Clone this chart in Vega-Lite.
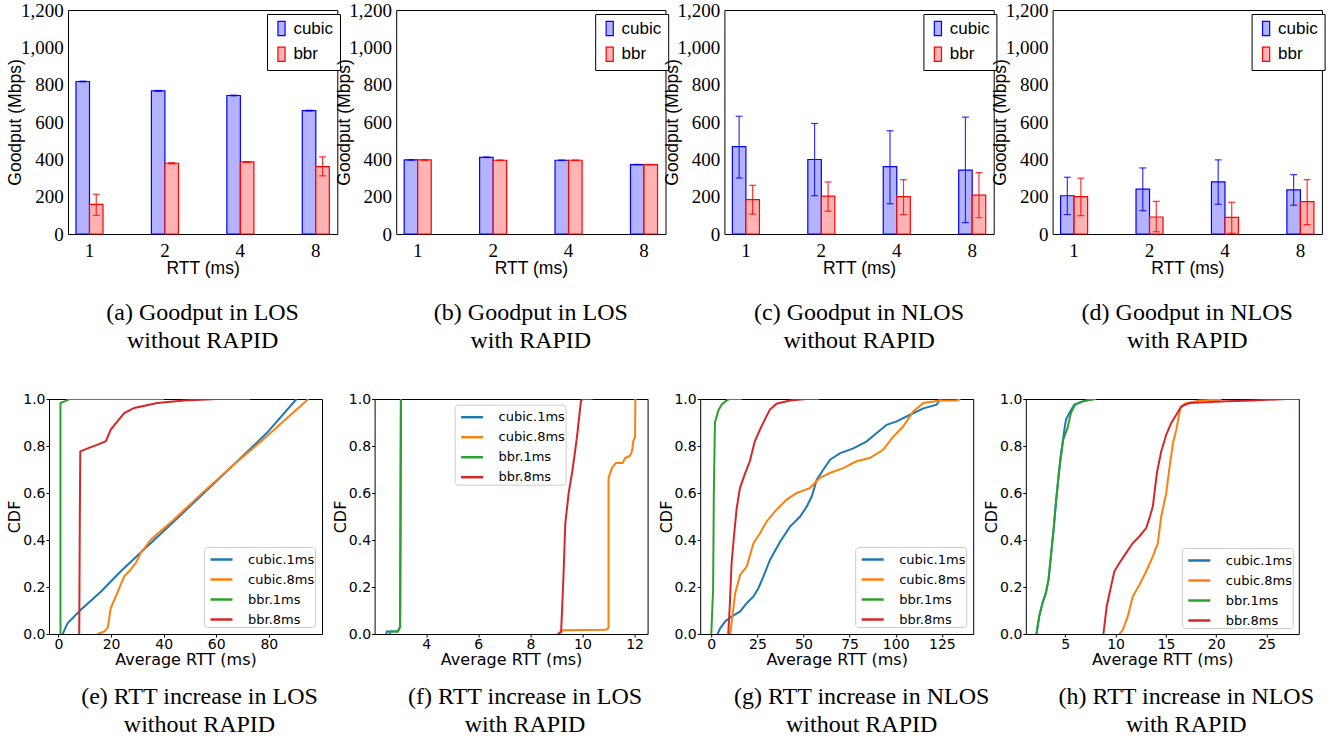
{
"$schema": "https://vega.github.io/schema/vega-lite/v6.json",
"background": "white",
"padding": {"left": 6, "top": 0, "right": 5, "bottom": 5},
"config": {
  "view": {"stroke": "#000000", "strokeWidth": 1},
  "axis": {"grid": false, "domain": false, "labelColor": "#000000", "titleColor": "#000000", "titleFontWeight": "normal", "labelFlush": false, "labelOverlap": false},
  "title": {"font": "Liberation Serif", "fontSize": 24, "fontWeight": "normal", "color": "#000000", "lineHeight": 28, "orient": "bottom", "anchor": "middle", "frame": "group"}
},
"datasets": {
"bars": [
{"p":"a","rtt":1,"algo":"cubic","v":817,"lo":815,"hi":819},
{"p":"a","rtt":2,"algo":"cubic","v":767,"lo":765,"hi":769},
{"p":"a","rtt":4,"algo":"cubic","v":742,"lo":740,"hi":744},
{"p":"a","rtt":8,"algo":"cubic","v":661,"lo":659,"hi":663},
{"p":"a","rtt":1,"algo":"bbr","v":159,"lo":100,"hi":213},
{"p":"a","rtt":2,"algo":"bbr","v":379,"lo":376,"hi":382},
{"p":"a","rtt":4,"algo":"bbr","v":386,"lo":384,"hi":388},
{"p":"a","rtt":8,"algo":"bbr","v":361,"lo":311,"hi":413},
{"p":"b","rtt":1,"algo":"cubic","v":397,"lo":396,"hi":398},
{"p":"b","rtt":2,"algo":"cubic","v":411,"lo":410,"hi":412},
{"p":"b","rtt":4,"algo":"cubic","v":395,"lo":394,"hi":396},
{"p":"b","rtt":8,"algo":"cubic","v":372,"lo":371,"hi":373},
{"p":"b","rtt":1,"algo":"bbr","v":397,"lo":396,"hi":398},
{"p":"b","rtt":2,"algo":"bbr","v":395,"lo":394,"hi":396},
{"p":"b","rtt":4,"algo":"bbr","v":395,"lo":394,"hi":396},
{"p":"b","rtt":8,"algo":"bbr","v":372,"lo":371,"hi":373},
{"p":"c","rtt":1,"algo":"cubic","v":468,"lo":300,"hi":631},
{"p":"c","rtt":2,"algo":"cubic","v":399,"lo":205,"hi":592},
{"p":"c","rtt":4,"algo":"cubic","v":361,"lo":162,"hi":553},
{"p":"c","rtt":8,"algo":"cubic","v":342,"lo":61,"hi":626},
{"p":"c","rtt":1,"algo":"bbr","v":184,"lo":106,"hi":261},
{"p":"c","rtt":2,"algo":"bbr","v":203,"lo":122,"hi":279},
{"p":"c","rtt":4,"algo":"bbr","v":200,"lo":104,"hi":291},
{"p":"c","rtt":8,"algo":"bbr","v":208,"lo":87,"hi":329},
{"p":"d","rtt":1,"algo":"cubic","v":205,"lo":104,"hi":304},
{"p":"d","rtt":2,"algo":"cubic","v":240,"lo":125,"hi":354},
{"p":"d","rtt":4,"algo":"cubic","v":279,"lo":159,"hi":397},
{"p":"d","rtt":8,"algo":"cubic","v":236,"lo":154,"hi":318},
{"p":"d","rtt":1,"algo":"bbr","v":200,"lo":98,"hi":299},
{"p":"d","rtt":2,"algo":"bbr","v":91,"lo":12,"hi":175},
{"p":"d","rtt":4,"algo":"bbr","v":89,"lo":4,"hi":170},
{"p":"d","rtt":8,"algo":"bbr","v":173,"lo":50,"hi":291}
],
"cdf": [
{"p":"e","s":"cubic.1ms","i":0,"x":1.6,"y":0},{"p":"e","s":"cubic.1ms","i":1,"x":3.5,"y":0.047},{"p":"e","s":"cubic.1ms","i":2,"x":8.6,"y":0.104},{"p":"e","s":"cubic.1ms","i":3,"x":16.1,"y":0.18},{"p":"e","s":"cubic.1ms","i":4,"x":23.7,"y":0.267},{"p":"e","s":"cubic.1ms","i":5,"x":33.8,"y":0.373},{"p":"e","s":"cubic.1ms","i":6,"x":43.9,"y":0.479},{"p":"e","s":"cubic.1ms","i":7,"x":54,"y":0.586},{"p":"e","s":"cubic.1ms","i":8,"x":66.6,"y":0.72},{"p":"e","s":"cubic.1ms","i":9,"x":79.2,"y":0.855},{"p":"e","s":"cubic.1ms","i":10,"x":90.5,"y":1.0},
{"p":"e","s":"cubic.8ms","i":0,"x":14.9,"y":0},{"p":"e","s":"cubic.8ms","i":1,"x":17.4,"y":0.011},{"p":"e","s":"cubic.8ms","i":2,"x":18.7,"y":0.026},{"p":"e","s":"cubic.8ms","i":3,"x":19.9,"y":0.11},{"p":"e","s":"cubic.8ms","i":4,"x":21.8,"y":0.16},{"p":"e","s":"cubic.8ms","i":5,"x":25,"y":0.245},{"p":"e","s":"cubic.8ms","i":6,"x":26.9,"y":0.267},{"p":"e","s":"cubic.8ms","i":7,"x":29.4,"y":0.302},{"p":"e","s":"cubic.8ms","i":8,"x":31.3,"y":0.345},{"p":"e","s":"cubic.8ms","i":9,"x":35.1,"y":0.401},{"p":"e","s":"cubic.8ms","i":10,"x":43.9,"y":0.487},{"p":"e","s":"cubic.8ms","i":11,"x":54,"y":0.593},{"p":"e","s":"cubic.8ms","i":12,"x":66.6,"y":0.72},{"p":"e","s":"cubic.8ms","i":13,"x":79.2,"y":0.841},{"p":"e","s":"cubic.8ms","i":14,"x":95,"y":1.0},
{"p":"e","s":"bbr.1ms","i":0,"x":0.76,"y":0},{"p":"e","s":"bbr.1ms","i":1,"x":0.76,"y":0.983},{"p":"e","s":"bbr.1ms","i":2,"x":2.3,"y":0.99},{"p":"e","s":"bbr.1ms","i":3,"x":4.2,"y":1.0},{"p":"e","s":"bbr.1ms","i":4,"x":40.1,"y":1.0},
{"p":"e","s":"bbr.8ms","i":0,"x":7.9,"y":0},{"p":"e","s":"bbr.8ms","i":1,"x":8.1,"y":0.47},{"p":"e","s":"bbr.8ms","i":2,"x":8.3,"y":0.777},{"p":"e","s":"bbr.8ms","i":3,"x":11.1,"y":0.79},{"p":"e","s":"bbr.8ms","i":4,"x":14.9,"y":0.806},{"p":"e","s":"bbr.8ms","i":5,"x":18,"y":0.82},{"p":"e","s":"bbr.8ms","i":6,"x":19.9,"y":0.87},{"p":"e","s":"bbr.8ms","i":7,"x":22.4,"y":0.905},{"p":"e","s":"bbr.8ms","i":8,"x":25,"y":0.94},{"p":"e","s":"bbr.8ms","i":9,"x":28.8,"y":0.962},{"p":"e","s":"bbr.8ms","i":10,"x":37.6,"y":0.983},{"p":"e","s":"bbr.8ms","i":11,"x":47.7,"y":0.994},{"p":"e","s":"bbr.8ms","i":12,"x":60.3,"y":1.0},{"p":"e","s":"bbr.8ms","i":13,"x":72.9,"y":1.0},
{"p":"f","s":"cubic.1ms","i":0,"x":2.47,"y":0},{"p":"f","s":"cubic.1ms","i":1,"x":2.49,"y":0.011},{"p":"f","s":"cubic.1ms","i":2,"x":2.91,"y":0.011},{"p":"f","s":"cubic.1ms","i":3,"x":3.0,"y":0.03},{"p":"f","s":"cubic.1ms","i":4,"x":3.03,"y":1.0},
{"p":"f","s":"cubic.8ms","i":0,"x":9.11,"y":0},{"p":"f","s":"cubic.8ms","i":1,"x":9.24,"y":0.016},{"p":"f","s":"cubic.8ms","i":2,"x":10.9,"y":0.018},{"p":"f","s":"cubic.8ms","i":3,"x":11.0,"y":0.026},{"p":"f","s":"cubic.8ms","i":4,"x":11.0,"y":0.664},{"p":"f","s":"cubic.8ms","i":5,"x":11.13,"y":0.706},{"p":"f","s":"cubic.8ms","i":6,"x":11.28,"y":0.728},{"p":"f","s":"cubic.8ms","i":7,"x":11.54,"y":0.728},{"p":"f","s":"cubic.8ms","i":8,"x":11.64,"y":0.749},{"p":"f","s":"cubic.8ms","i":9,"x":11.82,"y":0.759},{"p":"f","s":"cubic.8ms","i":10,"x":11.9,"y":0.777},{"p":"f","s":"cubic.8ms","i":11,"x":11.95,"y":0.82},{"p":"f","s":"cubic.8ms","i":12,"x":12.02,"y":0.84},{"p":"f","s":"cubic.8ms","i":13,"x":12.03,"y":1.0},
{"p":"f","s":"bbr.1ms","i":0,"x":2.6,"y":0},{"p":"f","s":"bbr.1ms","i":1,"x":2.62,"y":0.011},{"p":"f","s":"bbr.1ms","i":2,"x":2.91,"y":0.011},{"p":"f","s":"bbr.1ms","i":3,"x":3.0,"y":0.03},{"p":"f","s":"bbr.1ms","i":4,"x":3.03,"y":1.0},
{"p":"f","s":"bbr.8ms","i":0,"x":9.05,"y":0},{"p":"f","s":"bbr.8ms","i":1,"x":9.18,"y":0.01},{"p":"f","s":"bbr.8ms","i":2,"x":9.27,"y":0.245},{"p":"f","s":"bbr.8ms","i":3,"x":9.34,"y":0.47},{"p":"f","s":"bbr.8ms","i":4,"x":9.47,"y":0.6},{"p":"f","s":"bbr.8ms","i":5,"x":9.62,"y":0.7},{"p":"f","s":"bbr.8ms","i":6,"x":9.78,"y":0.83},{"p":"f","s":"bbr.8ms","i":7,"x":9.94,"y":0.99},{"p":"f","s":"bbr.8ms","i":8,"x":10.0,"y":1.0},{"p":"f","s":"bbr.8ms","i":9,"x":10.39,"y":1.0},
{"p":"g","s":"cubic.1ms","i":0,"x":3.4,"y":0},{"p":"g","s":"cubic.1ms","i":1,"x":4.9,"y":0.025},{"p":"g","s":"cubic.1ms","i":2,"x":7.6,"y":0.054},{"p":"g","s":"cubic.1ms","i":3,"x":11.2,"y":0.075},{"p":"g","s":"cubic.1ms","i":4,"x":15.7,"y":0.096},{"p":"g","s":"cubic.1ms","i":5,"x":19.3,"y":0.132},{"p":"g","s":"cubic.1ms","i":6,"x":22.9,"y":0.16},{"p":"g","s":"cubic.1ms","i":7,"x":25.6,"y":0.196},{"p":"g","s":"cubic.1ms","i":8,"x":28.3,"y":0.245},{"p":"g","s":"cubic.1ms","i":9,"x":31.9,"y":0.316},{"p":"g","s":"cubic.1ms","i":10,"x":37.4,"y":0.394},{"p":"g","s":"cubic.1ms","i":11,"x":42.8,"y":0.458},{"p":"g","s":"cubic.1ms","i":12,"x":48.2,"y":0.5},{"p":"g","s":"cubic.1ms","i":13,"x":51.8,"y":0.543},{"p":"g","s":"cubic.1ms","i":14,"x":54.5,"y":0.586},{"p":"g","s":"cubic.1ms","i":15,"x":57.2,"y":0.657},{"p":"g","s":"cubic.1ms","i":16,"x":60.8,"y":0.7},{"p":"g","s":"cubic.1ms","i":17,"x":64.4,"y":0.742},{"p":"g","s":"cubic.1ms","i":18,"x":69.9,"y":0.77},{"p":"g","s":"cubic.1ms","i":19,"x":77,"y":0.79},{"p":"g","s":"cubic.1ms","i":20,"x":84.3,"y":0.82},{"p":"g","s":"cubic.1ms","i":21,"x":89.7,"y":0.855},{"p":"g","s":"cubic.1ms","i":22,"x":95.1,"y":0.89},{"p":"g","s":"cubic.1ms","i":23,"x":100.5,"y":0.905},{"p":"g","s":"cubic.1ms","i":24,"x":107.8,"y":0.933},{"p":"g","s":"cubic.1ms","i":25,"x":115,"y":0.96},{"p":"g","s":"cubic.1ms","i":26,"x":122.2,"y":0.976},{"p":"g","s":"cubic.1ms","i":27,"x":124,"y":1.0},
{"p":"g","s":"cubic.8ms","i":0,"x":10.3,"y":0},{"p":"g","s":"cubic.8ms","i":1,"x":11.2,"y":0.06},{"p":"g","s":"cubic.8ms","i":2,"x":13,"y":0.175},{"p":"g","s":"cubic.8ms","i":3,"x":15.7,"y":0.252},{"p":"g","s":"cubic.8ms","i":4,"x":19.3,"y":0.288},{"p":"g","s":"cubic.8ms","i":5,"x":22.9,"y":0.387},{"p":"g","s":"cubic.8ms","i":6,"x":26.5,"y":0.43},{"p":"g","s":"cubic.8ms","i":7,"x":30.1,"y":0.48},{"p":"g","s":"cubic.8ms","i":8,"x":35.5,"y":0.53},{"p":"g","s":"cubic.8ms","i":9,"x":40.9,"y":0.572},{"p":"g","s":"cubic.8ms","i":10,"x":46.3,"y":0.6},{"p":"g","s":"cubic.8ms","i":11,"x":53.4,"y":0.621},{"p":"g","s":"cubic.8ms","i":12,"x":58.8,"y":0.664},{"p":"g","s":"cubic.8ms","i":13,"x":64.3,"y":0.685},{"p":"g","s":"cubic.8ms","i":14,"x":71.5,"y":0.706},{"p":"g","s":"cubic.8ms","i":15,"x":78.7,"y":0.735},{"p":"g","s":"cubic.8ms","i":16,"x":85.9,"y":0.749},{"p":"g","s":"cubic.8ms","i":17,"x":93.1,"y":0.784},{"p":"g","s":"cubic.8ms","i":18,"x":98.7,"y":0.84},{"p":"g","s":"cubic.8ms","i":19,"x":104,"y":0.883},{"p":"g","s":"cubic.8ms","i":20,"x":109.6,"y":0.948},{"p":"g","s":"cubic.8ms","i":21,"x":115,"y":0.983},{"p":"g","s":"cubic.8ms","i":22,"x":124,"y":0.994},{"p":"g","s":"cubic.8ms","i":23,"x":133,"y":0.994},{"p":"g","s":"cubic.8ms","i":24,"x":135,"y":1.0},
{"p":"g","s":"bbr.1ms","i":0,"x":0,"y":0},{"p":"g","s":"bbr.1ms","i":1,"x":1,"y":0.19},{"p":"g","s":"bbr.1ms","i":2,"x":1.4,"y":0.61},{"p":"g","s":"bbr.1ms","i":3,"x":2,"y":0.9},{"p":"g","s":"bbr.1ms","i":4,"x":3.8,"y":0.95},{"p":"g","s":"bbr.1ms","i":5,"x":5.6,"y":0.976},{"p":"g","s":"bbr.1ms","i":6,"x":8.3,"y":0.994},{"p":"g","s":"bbr.1ms","i":7,"x":10,"y":1.0},{"p":"g","s":"bbr.1ms","i":8,"x":16.6,"y":1.0},
{"p":"g","s":"bbr.8ms","i":0,"x":9.2,"y":0},{"p":"g","s":"bbr.8ms","i":1,"x":10.1,"y":0.13},{"p":"g","s":"bbr.8ms","i":2,"x":11,"y":0.3},{"p":"g","s":"bbr.8ms","i":3,"x":12.3,"y":0.415},{"p":"g","s":"bbr.8ms","i":4,"x":13.7,"y":0.53},{"p":"g","s":"bbr.8ms","i":5,"x":15.5,"y":0.62},{"p":"g","s":"bbr.8ms","i":6,"x":18.2,"y":0.68},{"p":"g","s":"bbr.8ms","i":7,"x":20.9,"y":0.735},{"p":"g","s":"bbr.8ms","i":8,"x":23.6,"y":0.82},{"p":"g","s":"bbr.8ms","i":9,"x":26.4,"y":0.87},{"p":"g","s":"bbr.8ms","i":10,"x":29,"y":0.912},{"p":"g","s":"bbr.8ms","i":11,"x":31.8,"y":0.955},{"p":"g","s":"bbr.8ms","i":12,"x":35.4,"y":0.98},{"p":"g","s":"bbr.8ms","i":13,"x":42.6,"y":0.994},{"p":"g","s":"bbr.8ms","i":14,"x":51.6,"y":1.0},{"p":"g","s":"bbr.8ms","i":15,"x":58.5,"y":1.0},
{"p":"h","s":"cubic.1ms","i":0,"x":2.14,"y":0},{"p":"h","s":"cubic.1ms","i":1,"x":2.41,"y":0.075},{"p":"h","s":"cubic.1ms","i":2,"x":2.74,"y":0.132},{"p":"h","s":"cubic.1ms","i":3,"x":3.07,"y":0.174},{"p":"h","s":"cubic.1ms","i":4,"x":3.34,"y":0.231},{"p":"h","s":"cubic.1ms","i":5,"x":3.57,"y":0.33},{"p":"h","s":"cubic.1ms","i":6,"x":3.84,"y":0.444},{"p":"h","s":"cubic.1ms","i":7,"x":4.07,"y":0.557},{"p":"h","s":"cubic.1ms","i":8,"x":4.3,"y":0.66},{"p":"h","s":"cubic.1ms","i":9,"x":4.5,"y":0.74},{"p":"h","s":"cubic.1ms","i":10,"x":4.75,"y":0.82},{"p":"h","s":"cubic.1ms","i":11,"x":4.95,"y":0.88},{"p":"h","s":"cubic.1ms","i":12,"x":5.07,"y":0.912},{"p":"h","s":"cubic.1ms","i":13,"x":5.4,"y":0.94},{"p":"h","s":"cubic.1ms","i":14,"x":5.9,"y":0.976},{"p":"h","s":"cubic.1ms","i":15,"x":7.06,"y":0.994},{"p":"h","s":"cubic.1ms","i":16,"x":7.56,"y":1.0},
{"p":"h","s":"cubic.8ms","i":0,"x":10.38,"y":0},{"p":"h","s":"cubic.8ms","i":1,"x":10.71,"y":0.018},{"p":"h","s":"cubic.8ms","i":2,"x":11.21,"y":0.075},{"p":"h","s":"cubic.8ms","i":3,"x":11.71,"y":0.16},{"p":"h","s":"cubic.8ms","i":4,"x":12.38,"y":0.21},{"p":"h","s":"cubic.8ms","i":5,"x":13.04,"y":0.267},{"p":"h","s":"cubic.8ms","i":6,"x":13.7,"y":0.33},{"p":"h","s":"cubic.8ms","i":7,"x":14.2,"y":0.387},{"p":"h","s":"cubic.8ms","i":8,"x":14.53,"y":0.5},{"p":"h","s":"cubic.8ms","i":9,"x":15.03,"y":0.6},{"p":"h","s":"cubic.8ms","i":10,"x":15.37,"y":0.713},{"p":"h","s":"cubic.8ms","i":11,"x":15.7,"y":0.812},{"p":"h","s":"cubic.8ms","i":12,"x":16.03,"y":0.869},{"p":"h","s":"cubic.8ms","i":13,"x":16.43,"y":0.96},{"p":"h","s":"cubic.8ms","i":14,"x":16.86,"y":0.98},{"p":"h","s":"cubic.8ms","i":15,"x":18.36,"y":0.994},{"p":"h","s":"cubic.8ms","i":16,"x":20.35,"y":0.997},{"p":"h","s":"cubic.8ms","i":17,"x":20.5,"y":1.0},
{"p":"h","s":"bbr.1ms","i":0,"x":2.14,"y":0},{"p":"h","s":"bbr.1ms","i":1,"x":2.41,"y":0.075},{"p":"h","s":"bbr.1ms","i":2,"x":2.74,"y":0.132},{"p":"h","s":"bbr.1ms","i":3,"x":3.07,"y":0.174},{"p":"h","s":"bbr.1ms","i":4,"x":3.34,"y":0.231},{"p":"h","s":"bbr.1ms","i":5,"x":3.57,"y":0.33},{"p":"h","s":"bbr.1ms","i":6,"x":3.84,"y":0.444},{"p":"h","s":"bbr.1ms","i":7,"x":4.07,"y":0.557},{"p":"h","s":"bbr.1ms","i":8,"x":4.34,"y":0.671},{"p":"h","s":"bbr.1ms","i":9,"x":4.57,"y":0.756},{"p":"h","s":"bbr.1ms","i":10,"x":4.8,"y":0.827},{"p":"h","s":"bbr.1ms","i":11,"x":5.23,"y":0.877},{"p":"h","s":"bbr.1ms","i":12,"x":5.56,"y":0.94},{"p":"h","s":"bbr.1ms","i":13,"x":5.99,"y":0.976},{"p":"h","s":"bbr.1ms","i":14,"x":6.73,"y":0.99},{"p":"h","s":"bbr.1ms","i":15,"x":8.06,"y":1.0},
{"p":"h","s":"bbr.8ms","i":0,"x":8.79,"y":0},{"p":"h","s":"bbr.8ms","i":1,"x":9.12,"y":0.118},{"p":"h","s":"bbr.8ms","i":2,"x":9.55,"y":0.203},{"p":"h","s":"bbr.8ms","i":3,"x":9.88,"y":0.267},{"p":"h","s":"bbr.8ms","i":4,"x":10.38,"y":0.302},{"p":"h","s":"bbr.8ms","i":5,"x":11.05,"y":0.345},{"p":"h","s":"bbr.8ms","i":6,"x":11.71,"y":0.387},{"p":"h","s":"bbr.8ms","i":7,"x":12.38,"y":0.416},{"p":"h","s":"bbr.8ms","i":8,"x":13.04,"y":0.451},{"p":"h","s":"bbr.8ms","i":9,"x":13.37,"y":0.494},{"p":"h","s":"bbr.8ms","i":10,"x":13.7,"y":0.543},{"p":"h","s":"bbr.8ms","i":11,"x":14.1,"y":0.685},{"p":"h","s":"bbr.8ms","i":12,"x":14.53,"y":0.777},{"p":"h","s":"bbr.8ms","i":13,"x":15.03,"y":0.848},{"p":"h","s":"bbr.8ms","i":14,"x":15.53,"y":0.898},{"p":"h","s":"bbr.8ms","i":15,"x":16.03,"y":0.933},{"p":"h","s":"bbr.8ms","i":16,"x":16.53,"y":0.969},{"p":"h","s":"bbr.8ms","i":17,"x":17.36,"y":0.983},{"p":"h","s":"bbr.8ms","i":18,"x":19.02,"y":0.986},{"p":"h","s":"bbr.8ms","i":19,"x":21,"y":0.99},{"p":"h","s":"bbr.8ms","i":20,"x":23.67,"y":0.994},{"p":"h","s":"bbr.8ms","i":21,"x":27,"y":1.0},{"p":"h","s":"bbr.8ms","i":22,"x":28.2,"y":1.0}
]
},
"columns": 1,
"spacing": 37,
"resolve": {"scale": {"fill": "independent", "stroke": "independent", "color": "independent"}},
"concat": [
{
"hconcat": [
{"width": 18.4, "height": 1, "data": {"values": [{"d": 0}]}, "mark": {"type": "point", "opacity": 0}, "encoding": {}, "view": {"stroke": null}},
{
"hconcat": [
{"width": 269.3, "height": 224, "data": {"name": "bars"}, "transform": [{"filter": "datum.p == 'a'"}],
 "title": {"text": ["(a) Goodput in LOS", "without RAPID"], "offset": 23.7},
 "encoding": {"x": {"field": "rtt", "type": "ordinal", "scale": {"paddingInner": 0.43, "paddingOuter": 0}, "axis": {"title": "RTT (ms)", "labelAngle": 0, "labelFont": "Liberation Serif", "labelFontSize": 19, "titleFont": "Liberation Sans", "titleFontSize": 17.5, "ticks": false, "labelPadding": 7.5, "titlePadding": -1}},
   "xOffset": {"field": "algo", "type": "nominal", "scale": {"domain": ["cubic", "bbr"], "paddingInner": 0, "paddingOuter": 0.59}}},
 "layer": [
  {"mark": {"type": "bar", "strokeWidth": 1.2}, "encoding": {"y": {"field": "v", "type": "quantitative", "scale": {"domain": [0, 1200], "nice": false}, "axis": {"values": [0, 200, 400, 600, 800, 1000, 1200], "tickCount": 7, "format": ",.0f", "labelOverlap": false, "title": "Goodput (Mbps)", "labelFont": "Liberation Serif", "labelFontSize": 19, "titleFont": "Liberation Sans", "titleFontSize": 17.5, "ticks": false, "labelPadding": 4.7, "titlePadding": -4.25}},
    "fill": {"field": "algo", "type": "nominal", "scale": {"domain": ["cubic", "bbr"], "range": ["#b3b3ff", "#ffb3b3"]}, "legend": {"title": null, "orient": "none", "legendX": 199, "legendY": 4, "padding": 6, "strokeColor": "#000000", "fillColor": "#ffffff", "cornerRadius": 0, "labelFont": "Liberation Sans", "labelFontSize": 17, "labelColor": "#000000", "labelOffset": 3.4, "labelExpr": "datum.label == 'bbr' ? '\u00a0\u00a0bbr' : datum.label + '\u00a0'", "symbolType": "M-0.5,-1H0.5V1H-0.5Z", "symbolSize": 204, "symbolStrokeWidth": 1.2, "rowPadding": 4.7, "encode": {"symbols": {"update": {"stroke": {"signal": "datum.value === 'cubic' ? '#0000ff' : '#ff0000'"}}}}}},
    "stroke": {"field": "algo", "type": "nominal", "scale": {"domain": ["cubic", "bbr"], "range": ["#0000ff", "#ff0000"]}, "legend": null}}},
  {"mark": {"type": "rule", "strokeWidth": 1.2, "opacity": 0.8}, "encoding": {"y": {"field": "lo", "type": "quantitative", "axis": {"values": [0, 200, 400, 600, 800, 1000, 1200], "tickCount": 7, "format": ",.0f", "labelOverlap": false, "title": "Goodput (Mbps)", "labelFont": "Liberation Serif", "labelFontSize": 19, "titleFont": "Liberation Sans", "titleFontSize": 17.5, "ticks": false, "labelPadding": 4.7, "titlePadding": -4.25}}, "y2": {"field": "hi"}, "stroke": {"field": "algo", "type": "nominal", "legend": null}}},
  {"mark": {"type": "tick", "size": 7, "thickness": 1.2, "opacity": 0.8}, "encoding": {"y": {"field": "lo", "type": "quantitative", "axis": {"values": [0, 200, 400, 600, 800, 1000, 1200], "tickCount": 7, "format": ",.0f", "labelOverlap": false, "title": "Goodput (Mbps)", "labelFont": "Liberation Serif", "labelFontSize": 19, "titleFont": "Liberation Sans", "titleFontSize": 17.5, "ticks": false, "labelPadding": 4.7, "titlePadding": -4.25}}, "color": {"field": "algo", "type": "nominal", "scale": {"domain": ["cubic", "bbr"], "range": ["#0000ff", "#ff0000"]}, "legend": null}}},
  {"mark": {"type": "tick", "size": 7, "thickness": 1.2, "opacity": 0.8}, "encoding": {"y": {"field": "hi", "type": "quantitative", "axis": {"values": [0, 200, 400, 600, 800, 1000, 1200], "tickCount": 7, "format": ",.0f", "labelOverlap": false, "title": "Goodput (Mbps)", "labelFont": "Liberation Serif", "labelFontSize": 19, "titleFont": "Liberation Sans", "titleFontSize": 17.5, "ticks": false, "labelPadding": 4.7, "titlePadding": -4.25}}, "color": {"field": "algo", "type": "nominal", "legend": null}}}
 ]},
{"width": 269.3, "height": 224, "data": {"name": "bars"}, "transform": [{"filter": "datum.p == 'b'"}],
 "title": {"text": ["(b) Goodput in LOS", "with RAPID"], "offset": 23.7},
 "encoding": {"x": {"field": "rtt", "type": "ordinal", "scale": {"paddingInner": 0.43, "paddingOuter": 0}, "axis": {"title": "RTT (ms)", "labelAngle": 0, "labelFont": "Liberation Serif", "labelFontSize": 19, "titleFont": "Liberation Sans", "titleFontSize": 17.5, "ticks": false, "labelPadding": 7.5, "titlePadding": -1}},
   "xOffset": {"field": "algo", "type": "nominal", "scale": {"domain": ["cubic", "bbr"], "paddingInner": 0, "paddingOuter": 0.59}}},
 "layer": [
  {"mark": {"type": "bar", "strokeWidth": 1.2}, "encoding": {"y": {"field": "v", "type": "quantitative", "scale": {"domain": [0, 1200], "nice": false}, "axis": {"values": [0, 200, 400, 600, 800, 1000, 1200], "tickCount": 7, "format": ",.0f", "labelOverlap": false, "title": "Goodput (Mbps)", "labelFont": "Liberation Serif", "labelFontSize": 19, "titleFont": "Liberation Sans", "titleFontSize": 17.5, "ticks": false, "labelPadding": 4.7, "titlePadding": -4.25}},
    "fill": {"field": "algo", "type": "nominal", "scale": {"domain": ["cubic", "bbr"], "range": ["#b3b3ff", "#ffb3b3"]}, "legend": {"title": null, "orient": "none", "legendX": 199, "legendY": 4, "padding": 6, "strokeColor": "#000000", "fillColor": "#ffffff", "cornerRadius": 0, "labelFont": "Liberation Sans", "labelFontSize": 17, "labelColor": "#000000", "labelOffset": 3.4, "labelExpr": "datum.label == 'bbr' ? '\u00a0\u00a0bbr' : datum.label + '\u00a0'", "symbolType": "M-0.5,-1H0.5V1H-0.5Z", "symbolSize": 204, "symbolStrokeWidth": 1.2, "rowPadding": 4.7, "encode": {"symbols": {"update": {"stroke": {"signal": "datum.value === 'cubic' ? '#0000ff' : '#ff0000'"}}}}}},
    "stroke": {"field": "algo", "type": "nominal", "scale": {"domain": ["cubic", "bbr"], "range": ["#0000ff", "#ff0000"]}, "legend": null}}},
  {"mark": {"type": "rule", "strokeWidth": 1.2, "opacity": 0.8}, "encoding": {"y": {"field": "lo", "type": "quantitative", "axis": {"values": [0, 200, 400, 600, 800, 1000, 1200], "tickCount": 7, "format": ",.0f", "labelOverlap": false, "title": "Goodput (Mbps)", "labelFont": "Liberation Serif", "labelFontSize": 19, "titleFont": "Liberation Sans", "titleFontSize": 17.5, "ticks": false, "labelPadding": 4.7, "titlePadding": -4.25}}, "y2": {"field": "hi"}, "stroke": {"field": "algo", "type": "nominal", "legend": null}}},
  {"mark": {"type": "tick", "size": 7, "thickness": 1.2, "opacity": 0.8}, "encoding": {"y": {"field": "lo", "type": "quantitative", "axis": {"values": [0, 200, 400, 600, 800, 1000, 1200], "tickCount": 7, "format": ",.0f", "labelOverlap": false, "title": "Goodput (Mbps)", "labelFont": "Liberation Serif", "labelFontSize": 19, "titleFont": "Liberation Sans", "titleFontSize": 17.5, "ticks": false, "labelPadding": 4.7, "titlePadding": -4.25}}, "color": {"field": "algo", "type": "nominal", "scale": {"domain": ["cubic", "bbr"], "range": ["#0000ff", "#ff0000"]}, "legend": null}}},
  {"mark": {"type": "tick", "size": 7, "thickness": 1.2, "opacity": 0.8}, "encoding": {"y": {"field": "hi", "type": "quantitative", "axis": {"values": [0, 200, 400, 600, 800, 1000, 1200], "tickCount": 7, "format": ",.0f", "labelOverlap": false, "title": "Goodput (Mbps)", "labelFont": "Liberation Serif", "labelFontSize": 19, "titleFont": "Liberation Sans", "titleFontSize": 17.5, "ticks": false, "labelPadding": 4.7, "titlePadding": -4.25}}, "color": {"field": "algo", "type": "nominal", "legend": null}}}
 ]},
{"width": 269.3, "height": 224, "data": {"name": "bars"}, "transform": [{"filter": "datum.p == 'c'"}],
 "title": {"text": ["(c) Goodput in NLOS", "without RAPID"], "offset": 23.7},
 "encoding": {"x": {"field": "rtt", "type": "ordinal", "scale": {"paddingInner": 0.43, "paddingOuter": 0}, "axis": {"title": "RTT (ms)", "labelAngle": 0, "labelFont": "Liberation Serif", "labelFontSize": 19, "titleFont": "Liberation Sans", "titleFontSize": 17.5, "ticks": false, "labelPadding": 7.5, "titlePadding": -1}},
   "xOffset": {"field": "algo", "type": "nominal", "scale": {"domain": ["cubic", "bbr"], "paddingInner": 0, "paddingOuter": 0.59}}},
 "layer": [
  {"mark": {"type": "bar", "strokeWidth": 1.2}, "encoding": {"y": {"field": "v", "type": "quantitative", "scale": {"domain": [0, 1200], "nice": false}, "axis": {"values": [0, 200, 400, 600, 800, 1000, 1200], "tickCount": 7, "format": ",.0f", "labelOverlap": false, "title": "Goodput (Mbps)", "labelFont": "Liberation Serif", "labelFontSize": 19, "titleFont": "Liberation Sans", "titleFontSize": 17.5, "ticks": false, "labelPadding": 4.7, "titlePadding": -4.25}},
    "fill": {"field": "algo", "type": "nominal", "scale": {"domain": ["cubic", "bbr"], "range": ["#b3b3ff", "#ffb3b3"]}, "legend": {"title": null, "orient": "none", "legendX": 199, "legendY": 4, "padding": 6, "strokeColor": "#000000", "fillColor": "#ffffff", "cornerRadius": 0, "labelFont": "Liberation Sans", "labelFontSize": 17, "labelColor": "#000000", "labelOffset": 3.4, "labelExpr": "datum.label == 'bbr' ? '\u00a0\u00a0bbr' : datum.label + '\u00a0'", "symbolType": "M-0.5,-1H0.5V1H-0.5Z", "symbolSize": 204, "symbolStrokeWidth": 1.2, "rowPadding": 4.7, "encode": {"symbols": {"update": {"stroke": {"signal": "datum.value === 'cubic' ? '#0000ff' : '#ff0000'"}}}}}},
    "stroke": {"field": "algo", "type": "nominal", "scale": {"domain": ["cubic", "bbr"], "range": ["#0000ff", "#ff0000"]}, "legend": null}}},
  {"mark": {"type": "rule", "strokeWidth": 1.2, "opacity": 0.8}, "encoding": {"y": {"field": "lo", "type": "quantitative", "axis": {"values": [0, 200, 400, 600, 800, 1000, 1200], "tickCount": 7, "format": ",.0f", "labelOverlap": false, "title": "Goodput (Mbps)", "labelFont": "Liberation Serif", "labelFontSize": 19, "titleFont": "Liberation Sans", "titleFontSize": 17.5, "ticks": false, "labelPadding": 4.7, "titlePadding": -4.25}}, "y2": {"field": "hi"}, "stroke": {"field": "algo", "type": "nominal", "legend": null}}},
  {"mark": {"type": "tick", "size": 7, "thickness": 1.2, "opacity": 0.8}, "encoding": {"y": {"field": "lo", "type": "quantitative", "axis": {"values": [0, 200, 400, 600, 800, 1000, 1200], "tickCount": 7, "format": ",.0f", "labelOverlap": false, "title": "Goodput (Mbps)", "labelFont": "Liberation Serif", "labelFontSize": 19, "titleFont": "Liberation Sans", "titleFontSize": 17.5, "ticks": false, "labelPadding": 4.7, "titlePadding": -4.25}}, "color": {"field": "algo", "type": "nominal", "scale": {"domain": ["cubic", "bbr"], "range": ["#0000ff", "#ff0000"]}, "legend": null}}},
  {"mark": {"type": "tick", "size": 7, "thickness": 1.2, "opacity": 0.8}, "encoding": {"y": {"field": "hi", "type": "quantitative", "axis": {"values": [0, 200, 400, 600, 800, 1000, 1200], "tickCount": 7, "format": ",.0f", "labelOverlap": false, "title": "Goodput (Mbps)", "labelFont": "Liberation Serif", "labelFontSize": 19, "titleFont": "Liberation Sans", "titleFontSize": 17.5, "ticks": false, "labelPadding": 4.7, "titlePadding": -4.25}}, "color": {"field": "algo", "type": "nominal", "legend": null}}}
 ]},
{"width": 269.3, "height": 224, "data": {"name": "bars"}, "transform": [{"filter": "datum.p == 'd'"}],
 "title": {"text": ["(d) Goodput in NLOS", "with RAPID"], "offset": 23.7},
 "encoding": {"x": {"field": "rtt", "type": "ordinal", "scale": {"paddingInner": 0.43, "paddingOuter": 0}, "axis": {"title": "RTT (ms)", "labelAngle": 0, "labelFont": "Liberation Serif", "labelFontSize": 19, "titleFont": "Liberation Sans", "titleFontSize": 17.5, "ticks": false, "labelPadding": 7.5, "titlePadding": -1}},
   "xOffset": {"field": "algo", "type": "nominal", "scale": {"domain": ["cubic", "bbr"], "paddingInner": 0, "paddingOuter": 0.59}}},
 "layer": [
  {"mark": {"type": "bar", "strokeWidth": 1.2}, "encoding": {"y": {"field": "v", "type": "quantitative", "scale": {"domain": [0, 1200], "nice": false}, "axis": {"values": [0, 200, 400, 600, 800, 1000, 1200], "tickCount": 7, "format": ",.0f", "labelOverlap": false, "title": "Goodput (Mbps)", "labelFont": "Liberation Serif", "labelFontSize": 19, "titleFont": "Liberation Sans", "titleFontSize": 17.5, "ticks": false, "labelPadding": 4.7, "titlePadding": -4.25}},
    "fill": {"field": "algo", "type": "nominal", "scale": {"domain": ["cubic", "bbr"], "range": ["#b3b3ff", "#ffb3b3"]}, "legend": {"title": null, "orient": "none", "legendX": 199, "legendY": 4, "padding": 6, "strokeColor": "#000000", "fillColor": "#ffffff", "cornerRadius": 0, "labelFont": "Liberation Sans", "labelFontSize": 17, "labelColor": "#000000", "labelOffset": 3.4, "labelExpr": "datum.label == 'bbr' ? '\u00a0\u00a0bbr' : datum.label + '\u00a0'", "symbolType": "M-0.5,-1H0.5V1H-0.5Z", "symbolSize": 204, "symbolStrokeWidth": 1.2, "rowPadding": 4.7, "encode": {"symbols": {"update": {"stroke": {"signal": "datum.value === 'cubic' ? '#0000ff' : '#ff0000'"}}}}}},
    "stroke": {"field": "algo", "type": "nominal", "scale": {"domain": ["cubic", "bbr"], "range": ["#0000ff", "#ff0000"]}, "legend": null}}},
  {"mark": {"type": "rule", "strokeWidth": 1.2, "opacity": 0.8}, "encoding": {"y": {"field": "lo", "type": "quantitative", "axis": {"values": [0, 200, 400, 600, 800, 1000, 1200], "tickCount": 7, "format": ",.0f", "labelOverlap": false, "title": "Goodput (Mbps)", "labelFont": "Liberation Serif", "labelFontSize": 19, "titleFont": "Liberation Sans", "titleFontSize": 17.5, "ticks": false, "labelPadding": 4.7, "titlePadding": -4.25}}, "y2": {"field": "hi"}, "stroke": {"field": "algo", "type": "nominal", "legend": null}}},
  {"mark": {"type": "tick", "size": 7, "thickness": 1.2, "opacity": 0.8}, "encoding": {"y": {"field": "lo", "type": "quantitative", "axis": {"values": [0, 200, 400, 600, 800, 1000, 1200], "tickCount": 7, "format": ",.0f", "labelOverlap": false, "title": "Goodput (Mbps)", "labelFont": "Liberation Serif", "labelFontSize": 19, "titleFont": "Liberation Sans", "titleFontSize": 17.5, "ticks": false, "labelPadding": 4.7, "titlePadding": -4.25}}, "color": {"field": "algo", "type": "nominal", "scale": {"domain": ["cubic", "bbr"], "range": ["#0000ff", "#ff0000"]}, "legend": null}}},
  {"mark": {"type": "tick", "size": 7, "thickness": 1.2, "opacity": 0.8}, "encoding": {"y": {"field": "hi", "type": "quantitative", "axis": {"values": [0, 200, 400, 600, 800, 1000, 1200], "tickCount": 7, "format": ",.0f", "labelOverlap": false, "title": "Goodput (Mbps)", "labelFont": "Liberation Serif", "labelFontSize": 19, "titleFont": "Liberation Sans", "titleFontSize": 17.5, "ticks": false, "labelPadding": 4.7, "titlePadding": -4.25}}, "color": {"field": "algo", "type": "nominal", "legend": null}}}
 ]}
],
"spacing": 58.2, "bounds": "flush",
"resolve": {"scale": {"fill": "independent", "stroke": "independent", "color": "independent"}}
}
],
"spacing": 0, "bounds": "flush",
"resolve": {"scale": {"fill": "independent", "stroke": "independent", "color": "independent"}}
},
{
"hconcat": [
{"width": 273, "height": 235, "data": {"name": "cdf"}, "transform": [{"filter": "datum.p == 'e'"}],
 "title": {"text": ["(e) RTT increase in LOS", "without RAPID"], "offset": 17.7, "dx": 14},
 "mark": {"type": "line", "strokeWidth": 2, "clip": true},
 "encoding": {
  "x": {"field": "x", "type": "quantitative", "scale": {"domain": [-3.6, 100.2], "nice": false, "zero": false}, "axis": {"values": [0, 20, 40, 60, 80], "title": "Average RTT (ms)", "labelFont": "DejaVu Sans", "labelFontSize": 14, "titleFont": "DejaVu Sans", "titleFontSize": 16, "tickSize": 3, "tickColor": "#000000", "labelPadding": 0.5, "titlePadding": 0}},
  "y": {"field": "y", "type": "quantitative", "scale": {"domain": [0, 1], "nice": false}, "axis": {"values": [0, 0.2, 0.4, 0.6, 0.8, 1], "format": ".1f", "title": "CDF", "labelFont": "DejaVu Sans", "labelFontSize": 14, "titleFont": "DejaVu Sans", "titleFontSize": 16, "tickSize": 3, "tickColor": "#000000", "labelPadding": 1, "titlePadding": -0.25}},
  "color": {"field": "s", "type": "nominal", "scale": {"domain": ["cubic.1ms", "cubic.8ms", "bbr.1ms", "bbr.8ms"], "range": ["#1f77b4", "#ff7f0e", "#2ca02c", "#d62728"]}, "legend": {"title": null, "orient": "bottom-right", "offset": 7.5, "padding": 0, "symbolOffset": 5, "strokeColor": "#cccccc", "fillColor": "#ffffff", "cornerRadius": 3, "labelFont": "DejaVu Sans", "labelFontSize": 13, "labelColor": "#000000", "labelOffset": 14, "labelExpr": "datum.label + '\u00a0'", "symbolType": "stroke", "symbolSize": 484, "symbolStrokeWidth": 2.5, "rowPadding": -8}},
  "order": {"field": "i", "type": "quantitative"}
 }},
{"width": 273, "height": 235, "data": {"name": "cdf"}, "transform": [{"filter": "datum.p == 'f'"}],
 "title": {"text": ["(f) RTT increase in LOS", "with RAPID"], "offset": 17.7, "dx": 14},
 "mark": {"type": "line", "strokeWidth": 2, "clip": true},
 "encoding": {
  "x": {"field": "x", "type": "quantitative", "scale": {"domain": [2.02, 12.5], "nice": false, "zero": false}, "axis": {"values": [4, 6, 8, 10, 12], "title": "Average RTT (ms)", "labelFont": "DejaVu Sans", "labelFontSize": 14, "titleFont": "DejaVu Sans", "titleFontSize": 16, "tickSize": 3, "tickColor": "#000000", "labelPadding": 0.5, "titlePadding": 0}},
  "y": {"field": "y", "type": "quantitative", "scale": {"domain": [0, 1], "nice": false}, "axis": {"values": [0, 0.2, 0.4, 0.6, 0.8, 1], "format": ".1f", "title": "CDF", "labelFont": "DejaVu Sans", "labelFontSize": 14, "titleFont": "DejaVu Sans", "titleFontSize": 16, "tickSize": 3, "tickColor": "#000000", "labelPadding": 1, "titlePadding": -0.25}},
  "color": {"field": "s", "type": "nominal", "scale": {"domain": ["cubic.1ms", "cubic.8ms", "bbr.1ms", "bbr.8ms"], "range": ["#1f77b4", "#ff7f0e", "#2ca02c", "#d62728"]}, "legend": {"title": null, "orient": "none", "legendX": 80, "legendY": 5.7, "padding": 0, "symbolOffset": 5, "strokeColor": "#cccccc", "fillColor": "#ffffff", "cornerRadius": 3, "labelFont": "DejaVu Sans", "labelFontSize": 13, "labelColor": "#000000", "labelOffset": 14, "labelExpr": "datum.label + '\u00a0'", "symbolType": "stroke", "symbolSize": 484, "symbolStrokeWidth": 2.5, "rowPadding": -8}},
  "order": {"field": "i", "type": "quantitative"}
 }},
{"width": 273, "height": 235, "data": {"name": "cdf"}, "transform": [{"filter": "datum.p == 'g'"}],
 "title": {"text": ["(g) RTT increase in NLOS", "without RAPID"], "offset": 17.7, "dx": 25},
 "mark": {"type": "line", "strokeWidth": 2, "clip": true},
 "encoding": {
  "x": {"field": "x", "type": "quantitative", "scale": {"domain": [-6, 142], "nice": false, "zero": false}, "axis": {"values": [0, 25, 50, 75, 100, 125], "title": "Average RTT (ms)", "labelFont": "DejaVu Sans", "labelFontSize": 14, "titleFont": "DejaVu Sans", "titleFontSize": 16, "tickSize": 3, "tickColor": "#000000", "labelPadding": 0.5, "titlePadding": 0}},
  "y": {"field": "y", "type": "quantitative", "scale": {"domain": [0, 1], "nice": false}, "axis": {"values": [0, 0.2, 0.4, 0.6, 0.8, 1], "format": ".1f", "title": "CDF", "labelFont": "DejaVu Sans", "labelFontSize": 14, "titleFont": "DejaVu Sans", "titleFontSize": 16, "tickSize": 3, "tickColor": "#000000", "labelPadding": 1, "titlePadding": -0.25}},
  "color": {"field": "s", "type": "nominal", "scale": {"domain": ["cubic.1ms", "cubic.8ms", "bbr.1ms", "bbr.8ms"], "range": ["#1f77b4", "#ff7f0e", "#2ca02c", "#d62728"]}, "legend": {"title": null, "orient": "bottom-right", "offset": 7, "padding": 0, "symbolOffset": 5, "strokeColor": "#cccccc", "fillColor": "#ffffff", "cornerRadius": 3, "labelFont": "DejaVu Sans", "labelFontSize": 13, "labelColor": "#000000", "labelOffset": 14, "labelExpr": "datum.label + '\u00a0'", "symbolType": "stroke", "symbolSize": 484, "symbolStrokeWidth": 2.5, "rowPadding": -8}},
  "order": {"field": "i", "type": "quantitative"}
 }},
{"width": 273, "height": 235, "data": {"name": "cdf"}, "transform": [{"filter": "datum.p == 'h'"}],
 "title": {"text": ["(h) RTT increase in NLOS", "with RAPID"], "offset": 17.7, "dx": 24},
 "mark": {"type": "line", "strokeWidth": 2, "clip": true},
 "encoding": {
  "x": {"field": "x", "type": "quantitative", "scale": {"domain": [1.08, 28.2], "nice": false, "zero": false}, "axis": {"values": [5, 10, 15, 20, 25], "title": "Average RTT (ms)", "labelFont": "DejaVu Sans", "labelFontSize": 14, "titleFont": "DejaVu Sans", "titleFontSize": 16, "tickSize": 3, "tickColor": "#000000", "labelPadding": 0.5, "titlePadding": 0}},
  "y": {"field": "y", "type": "quantitative", "scale": {"domain": [0, 1], "nice": false}, "axis": {"values": [0, 0.2, 0.4, 0.6, 0.8, 1], "format": ".1f", "title": "CDF", "labelFont": "DejaVu Sans", "labelFontSize": 14, "titleFont": "DejaVu Sans", "titleFontSize": 16, "tickSize": 3, "tickColor": "#000000", "labelPadding": 1, "titlePadding": -0.25}},
  "color": {"field": "s", "type": "nominal", "scale": {"domain": ["cubic.1ms", "cubic.8ms", "bbr.1ms", "bbr.8ms"], "range": ["#1f77b4", "#ff7f0e", "#2ca02c", "#d62728"]}, "legend": {"title": null, "orient": "bottom-right", "offset": 6.5, "padding": 0, "symbolOffset": 5, "strokeColor": "#cccccc", "fillColor": "#ffffff", "cornerRadius": 3, "labelFont": "DejaVu Sans", "labelFontSize": 13, "labelColor": "#000000", "labelOffset": 14, "labelExpr": "datum.label + '\u00a0'", "symbolType": "stroke", "symbolSize": 484, "symbolStrokeWidth": 2.5, "rowPadding": -8}},
  "order": {"field": "i", "type": "quantitative"}
 }}
],
"spacing": 52.6, "bounds": "flush",
"resolve": {"scale": {"fill": "independent", "stroke": "independent", "color": "independent"}}
}
]
}
